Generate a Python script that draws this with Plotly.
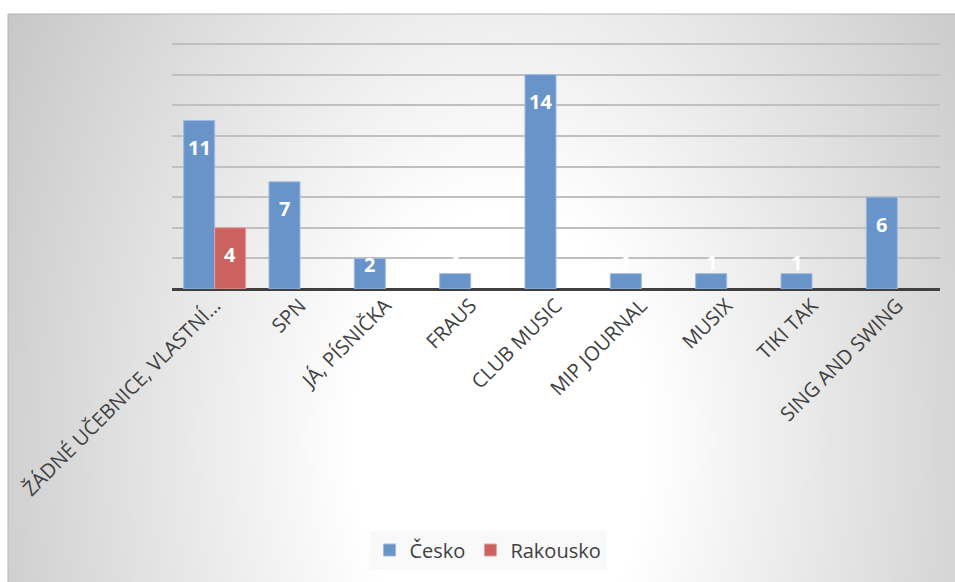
import base64, struct, zlib, math
import plotly.graph_objects as go

categories = ["ŽÁDNÉ UČEBNICE, VLASTNÍ…", "SPN", "JÁ, PÍSNIČKA", "FRAUS", "CLUB MUSIC",
              "MIP JOURNAL", "MUSIX", "TIKI TAK", "SING AND SWING"]
cesko = [11, 7, 2, 1, 14, 1, 1, 1, 6]
rakousko = [4, None, None, None, None, None, None, None, None]
series_names = ["Česko", "Rakousko"]

W, H = 955, 582
# plot area in pixels (value 16 at y=44, 0 at y=289)
PL, PR, PT, PB = 172, 940, 44, 289
YMAX = 16
ppu = (PB - PT) / YMAX
YTOP = YMAX + 0.4
PT_EXT = PB - YTOP * ppu

# ---- radial gradient background as PNG ----
def make_png(w, h, rows):
    def chunk(t, d):
        c = struct.pack(">I", len(d)) + t + d
        return c + struct.pack(">I", zlib.crc32(t + d) & 0xffffffff)
    raw = b"".join(b"\x00" + bytes(r) for r in rows)
    return (b"\x89PNG\r\n\x1a\n" + chunk(b"IHDR", struct.pack(">IIBBBBB", w, h, 8, 0, 0, 0, 0))
            + chunk(b"IDAT", zlib.compress(raw, 9)) + chunk(b"IEND", b""))

BX0, BY0 = 8, 14
bw, bh = W - BX0, H - BY0
iw, ih = 237, 142
cx, cy, k = 500, 440, 0.65
rows = []
for j in range(ih):
    py = BY0 + (j + 0.5) * bh / ih
    row = []
    for i in range(iw):
        px = BX0 + (i + 0.5) * bw / iw
        r = math.hypot(px - cx, (py - cy) * k)
        t = min(max((r - 150) / 410, 0), 1)
        row.append(int(round(255 - 55 * t)))
    rows.append(row)
src = "data:image/png;base64," + base64.b64encode(make_png(iw, ih, rows)).decode()

fig = go.Figure()
fig.add_trace(go.Bar(x=categories, y=cesko, name=series_names[0],
                     marker=dict(color="#6894c9", line=dict(color="#9fbbe0", width=1))))
fig.add_trace(go.Bar(x=categories, y=rakousko, name=series_names[1],
                     marker=dict(color="#cb625f", line=dict(color="#e4a3a1", width=1))))

annotations = []
for vals, xs in ((cesko, -15.5), (rakousko, 15.5)):
    for c, v in zip(categories, vals):
        if v is None:
            continue
        h = v * ppu
        if h > 25:
            ys = -max(5, min(27, h - 25))
        else:
            ys = 11
        annotations.append(dict(x=c, y=v, xref="x", yref="y", text=str(v), showarrow=False,
                                xshift=xs, yshift=ys,
                                font=dict(family="Open Sans", size=20, color="white", weight="bold")))

fig.update_layout(
    width=W, height=H,
    margin=dict(l=0, r=0, t=0, b=0),
    paper_bgcolor="white",
    plot_bgcolor="rgba(0,0,0,0)",
    barmode="group", bargap=0.273, bargroupgap=0,
    font=dict(family="Open Sans", color="#404040"),
    xaxis=dict(domain=[PL / W, PR / W], tickangle=-45, showgrid=False, ticks="",
               tickfont=dict(size=20, color="#404040"), automargin=False,
               showline=False, zeroline=False),
    yaxis=dict(domain=[(H - PB) / H, (H - PT_EXT) / H], range=[0, YTOP], dtick=2,
               showticklabels=False, showgrid=True, gridcolor="#c0c0c0", gridwidth=1.5,
               zeroline=True, zerolinecolor="#404040", zerolinewidth=3, automargin=False),
    legend=dict(orientation="h", x=488 / W, xanchor="center", y=(H - 550) / H, yanchor="middle",
                bgcolor="rgba(246,246,246,0.7)", font=dict(size=20, color="#404040"),
                itemwidth=30, tracegroupgap=0),
    images=[dict(source=src, xref="paper", yref="paper", x=BX0 / W, y=1 - BY0 / H,
                 sizex=bw / W, sizey=bh / H, xanchor="left", yanchor="top",
                 sizing="stretch", layer="below")],
    shapes=[dict(type="rect", xref="paper", yref="paper", x0=BX0 / W, x1=1.01,
                 y0=-0.01, y1=1 - BY0 / H, line=dict(color="#b4b4b4", width=1),
                 fillcolor="rgba(0,0,0,0)", layer="below")],
    annotations=annotations,
)

fig.write_html("out.html")
